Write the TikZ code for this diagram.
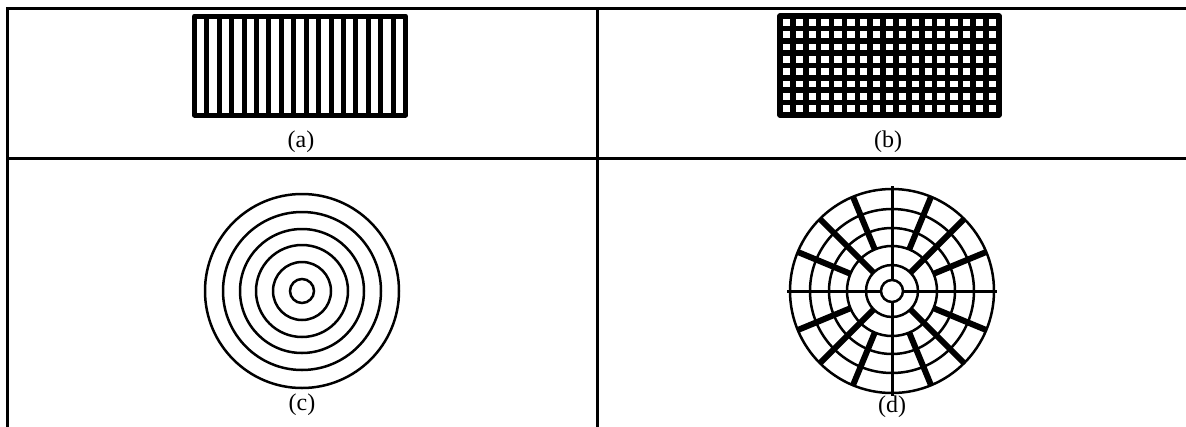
\documentclass[tikz,border=0pt]{standalone}
\usepackage{fontspec}
\setmainfont{Liberation Serif}
\usetikzlibrary{positioning, calc}

\begin{document}
\begin{tikzpicture}[
        x=1pt, y=-1pt,
        rule/.style={line width=3pt, line cap=rect},
        bar/.style={line width=5pt, line join=round},
        mesh/.style={line width=5.6pt, line join=round},
        ring/.style={line width=2.5pt},
        thinspoke/.style={line width=3pt},
        thickspoke/.style={line width=6pt},
        lbl/.style={font=\fontsize{24}{28}\selectfont},
      ]
        \useasboundingbox (0,0) rectangle (1186,426);
        % table rules
        \draw[rule] (7,8) -- (1190,8);
        \draw[rule] (7,158) -- (1190,158);
        \draw[rule] (7,8) -- (7,430);
        \draw[rule] (597,8) -- (597,430);
        % (a) bars
        \draw[bar] (194.5,16) rectangle (405.5,115);
        \foreach \i in {1,...,16}
          \draw[bar] ({194.5+\i*211/17},16) -- ({194.5+\i*211/17},115);
        \node[lbl] (capa) at (301,142) {(a)};
        % (b) mesh
        \draw[mesh] (780,16) rectangle (999,115);
        \foreach \i in {1,...,16}
          \draw[mesh] ({780+\i*219/17},16) -- ({780+\i*219/17},115);
        \foreach \j in {1,...,7}
          \draw[mesh] (780,{16+\j*99/8}) -- (999,{16+\j*99/8});
        \node[lbl] (capb) at (888,142) {(b)};
        % (c) rings
        \coordinate (oc) at (302,291);
        \foreach \r in {97,79,62,46,29,12}
          \draw[ring] (oc) circle[radius=\r];
        \node[lbl] (capc) at (302,405) {(c)};
        % (d) rings and spokes
        \coordinate (od) at (892,291);
        \foreach \r in {102,82,63,45,26,11}
          \draw[ring] (od) circle[radius=\r];
        \foreach \a in {0,90,180,270}
          \draw[thinspoke] ($(od)+(\a:11)$) -- ($(od)+(\a:105)$);
        \foreach \a in {45,135,225,315}
          \draw[thickspoke] ($(od)+(\a:26)$) -- ($(od)+(\a:102)$);
        \foreach \a in {22.5,67.5,112.5,157.5,202.5,247.5,292.5,337.5}
          \draw[thickspoke] ($(od)+(\a:45)$) -- ($(od)+(\a:102)$);
        \node[lbl] (capd) at (892,407) {(d)};
      \end{tikzpicture}
\end{document}
